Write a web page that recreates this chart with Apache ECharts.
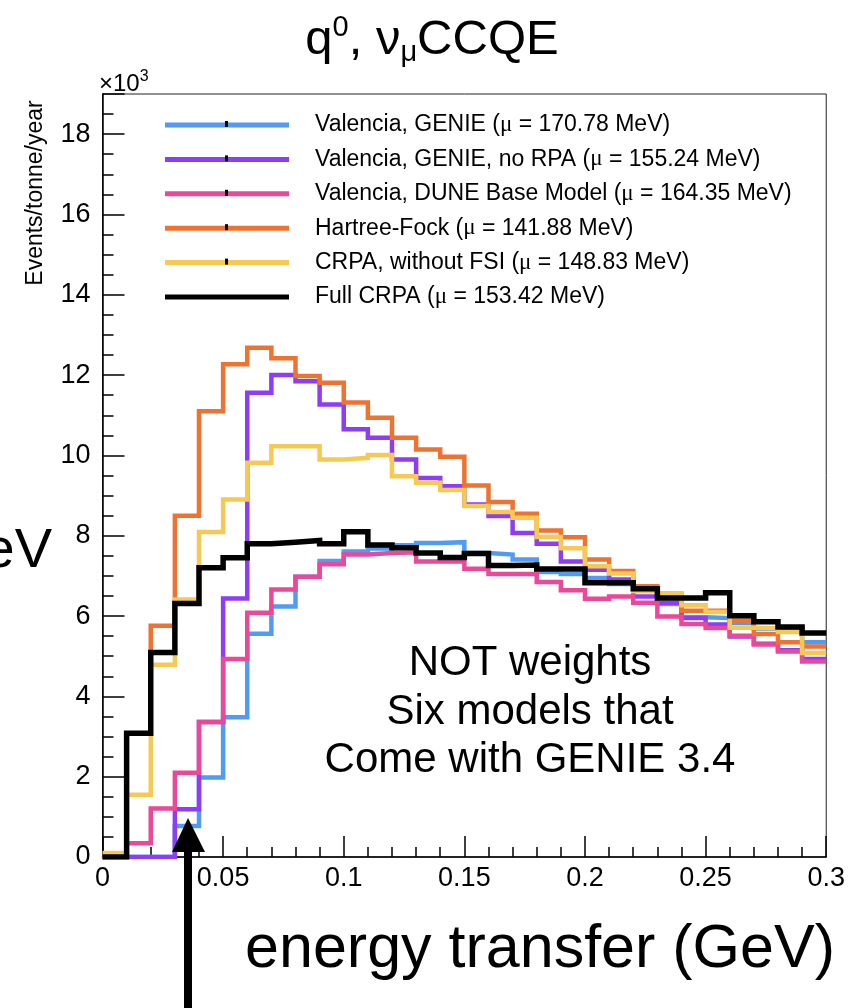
<!DOCTYPE html>
<html>
<head>
<meta charset="utf-8">
<script src="https://cdn.jsdelivr.net/npm/echarts@6/dist/echarts.min.js"></script>
<style>
html,body{margin:0;padding:0;background:#fff;}
#chart{width:848px;height:1008px;}
</style>
</head>
<body>
<div id="chart"></div>
<script>
// Bin edges (GeV) of the q0 histograms
const binEdges = [0,0.01,0.02,0.03,0.04,0.05,0.06,0.07,0.08,0.09,0.10,0.11,0.12,0.13,0.14,0.15,0.16,0.17,0.18,0.19,0.20,0.21,0.22,0.23,0.24,0.25,0.26,0.27,0.28,0.29,0.30];

// Events/tonne/year (x10^3) per bin
const valenciaGenie = [0,0,0,0.77,1.98,3.48,5.56,6.24,6.98,7.37,7.61,7.68,7.76,7.82,7.84,7.57,7.53,7.41,7.10,7.05,6.95,6.80,6.70,6.30,5.97,5.95,5.83,5.69,5.68,5.35];
const valenciaNoRPA = [0,0,0,1.19,3.36,6.44,11.56,12.00,11.85,11.27,10.65,10.44,9.90,9.44,9.23,8.78,8.49,8.07,7.80,7.36,7.15,6.91,6.49,6.33,5.95,5.79,5.49,5.31,5.15,4.93];
const valenciaDune = [0,0.34,1.21,2.10,3.36,4.93,6.08,6.66,6.98,7.29,7.53,7.57,7.59,7.36,7.36,7.18,7.05,7.05,6.85,6.64,6.43,6.49,6.33,5.99,5.80,5.70,5.51,5.29,5.12,4.87];
const hartreeFock = [0,3.08,5.76,8.50,11.10,12.27,12.68,12.42,11.98,11.81,11.32,10.94,10.44,10.15,9.97,9.25,8.84,8.55,8.13,7.96,7.41,7.12,6.74,6.55,6.13,6.13,5.89,5.55,5.35,5.24];
const crpaNoFSI = [0.10,1.55,4.79,6.41,8.09,8.90,9.82,10.23,10.23,9.90,9.94,10.01,9.48,9.32,9.14,8.74,8.59,8.45,7.97,7.69,7.24,7.06,6.62,6.57,6.27,6.10,5.71,5.70,5.60,5.08];
const fullCRPA = [0,3.08,5.09,6.31,7.20,7.45,7.80,7.84,7.88,7.80,8.10,7.77,7.70,7.57,7.46,7.56,7.26,7.27,7.17,7.17,6.83,6.83,6.68,6.45,6.45,6.58,6.01,5.86,5.73,5.58];

const seriesNames = [
  'Valencia, GENIE (μ = 170.78 MeV)',
  'Valencia, GENIE, no RPA (μ = 155.24 MeV)',
  'Valencia, DUNE Base Model (μ = 164.35 MeV)',
  'Hartree-Fock (μ = 141.88 MeV)',
  'CRPA, without FSI (μ = 148.83 MeV)',
  'Full CRPA (μ = 153.42 MeV)'
];
const seriesValues = [valenciaGenie, valenciaNoRPA, valenciaDune, hartreeFock, crpaNoFSI, fullCRPA];
const seriesColors = ['#4f9cf2', '#8f3cf6', '#ea4898', '#ef7330', '#f6c955', '#000000'];
const seriesWidths = [4.5, 4.5, 4.5, 4.5, 4.5, 5.5];

const yTicks = [0,2,4,6,8,10,12,14,16,18];

function histData(vals) {
  return binEdges.map((x, i) => [x, vals[Math.min(i, vals.length - 1)]]);
}

const chart = echarts.init(document.getElementById('chart'), null, {renderer: 'canvas'});
const FONT = 'Liberation Sans, Arial, Helvetica, sans-serif';

// small black marker in the middle of the legend samples (error-bar style)
const legendMarkRows = [124, 158.4, 192.8, 227.2, 261.6];
const legendMarks = legendMarkRows.map(y => ({
  type: 'rect', z: 120,
  shape: {x: 225, y: y - 3, width: 3, height: 6},
  style: {fill: '#000'}
}));

const option = {
  animation: false,
  backgroundColor: '#ffffff',
  grid: {left: 102.5, right: 17.5, top: 94, bottom: 151, show: true, borderColor: '#222', borderWidth: 1, backgroundColor: 'transparent'},
  legend: {
    orient: 'vertical',
    left: 160,
    top: 108,
    itemWidth: 124,
    itemHeight: 5,
    itemGap: 10.4,
    icon: 'rect',
    data: seriesNames,
    formatter: function (name) { return name.replace('μ', '{m|μ}'); },
    textStyle: {
      fontFamily: FONT, fontSize: 23, color: '#000', lineHeight: 24,
      padding: [0, 0, 0, 21],
      rich: { m: {fontFamily: 'Liberation Serif, Times New Roman, serif', fontSize: 23, color: '#000', lineHeight: 24} }
    }
  },
  xAxis: [
    {
      type: 'value', min: 0, max: 0.3, interval: 0.05, position: 'bottom',
      axisLine: {show: true, lineStyle: {color: '#000', width: 1.5}},
      axisTick: {show: true, inside: true, length: 21, lineStyle: {color: '#000', width: 1.5}},
      splitLine: {show: false},
      axisLabel: {
        color: '#000', fontFamily: FONT, fontSize: 27, margin: 8,
        formatter: function (v) { return v === 0 ? '0' : String(+v.toFixed(2)); }
      }
    },
    {
      type: 'value', min: 0, max: 0.3, interval: 0.01, position: 'bottom',
      axisLine: {show: false},
      axisTick: {show: true, inside: true, length: 10, lineStyle: {color: '#000', width: 1.5}},
      splitLine: {show: false},
      axisLabel: {show: false}
    }
  ],
  yAxis: [
    {
      type: 'value', min: 0, max: 19, interval: 2, position: 'left',
      axisLine: {show: true, lineStyle: {color: '#000', width: 1.5}},
      axisTick: {show: true, inside: true, length: 22, lineStyle: {color: '#000', width: 1.5}},
      splitLine: {show: false},
      axisLabel: {
        color: '#000', fontFamily: FONT, fontSize: 27, margin: 12,
        formatter: function (v) { return yTicks.indexOf(v) >= 0 ? String(v) : ''; }
      }
    },
    {
      type: 'value', min: 0, max: 19, interval: 0.5, position: 'left',
      axisLine: {show: false},
      axisTick: {show: true, inside: true, length: 11, lineStyle: {color: '#000', width: 1.5}},
      splitLine: {show: false},
      axisLabel: {show: false}
    }
  ],
  series: seriesNames.map((name, k) => ({
    name: name,
    type: 'line',
    step: 'end',
    xAxisIndex: 0,
    yAxisIndex: 0,
    showSymbol: false,
    symbol: 'none',
    data: histData(seriesValues[k]),
    itemStyle: {color: seriesColors[k]},
    lineStyle: {color: seriesColors[k], width: seriesWidths[k], join: 'miter', cap: 'butt'},
    z: 2 + k
  })),
  graphic: [
    {
      type: 'text', x: 432, y: 40, z: 100,
      style: {
        text: '{b|q}{sup|0}{b|, ν}{sub|μ}{b|CCQE}',
        textAlign: 'center', textVerticalAlign: 'middle',
        rich: {
          b: {fontFamily: FONT, fontSize: 49, fill: '#000', lineHeight: 64, verticalAlign: 'middle'},
          sup: {fontFamily: FONT, fontSize: 29, fill: '#000', lineHeight: 64, padding: [0, 0, 24, 0], verticalAlign: 'middle'},
          sub: {fontFamily: FONT, fontSize: 29, fill: '#000', lineHeight: 64, padding: [26, 0, 0, 0], verticalAlign: 'middle'}
        }
      }
    },
    {
      type: 'text', x: 99, y: 84, z: 100,
      style: {
        text: '{a|×10}{s|3}',
        textVerticalAlign: 'middle',
        rich: {
          a: {fontFamily: FONT, fontSize: 24, fill: '#000', lineHeight: 32},
          s: {fontFamily: FONT, fontSize: 16, fill: '#000', lineHeight: 32, padding: [0, 0, 14, 0]}
        }
      }
    },
    {
      type: 'text', x: 36, y: 193, rotation: Math.PI / 2, z: 100,
      style: {text: 'Events/tonne/year', font: '23px ' + FONT, fill: '#000', textAlign: 'center', textVerticalAlign: 'middle'}
    },
    {
      type: 'text', x: 52, y: 552, z: 100,
      style: {text: 'eV', font: '56px ' + FONT, fill: '#000', textAlign: 'right', textVerticalAlign: 'middle'}
    },
    {
      type: 'text', x: 540, y: 950, z: 100,
      style: {text: 'energy transfer (GeV)', font: '61px ' + FONT, fill: '#000', textAlign: 'center', textVerticalAlign: 'middle'}
    },
    {
      type: 'text', x: 530, y: 712, z: 100,
      style: {text: 'NOT weights\nSix models that\nCome with GENIE 3.4', font: '42px ' + FONT, lineHeight: 48.5, fill: '#000', textAlign: 'center', textVerticalAlign: 'middle'}
    },
    {
      type: 'rect', z: 100,
      shape: {x: 184, y: 850, width: 8, height: 160},
      style: {fill: '#000'}
    },
    {
      type: 'polygon', z: 100,
      shape: {points: [[188, 818], [172, 852], [205, 852]]},
      style: {fill: '#000'}
    }
  ].concat(legendMarks)
};
chart.setOption(option);
</script>
</body>
</html>
